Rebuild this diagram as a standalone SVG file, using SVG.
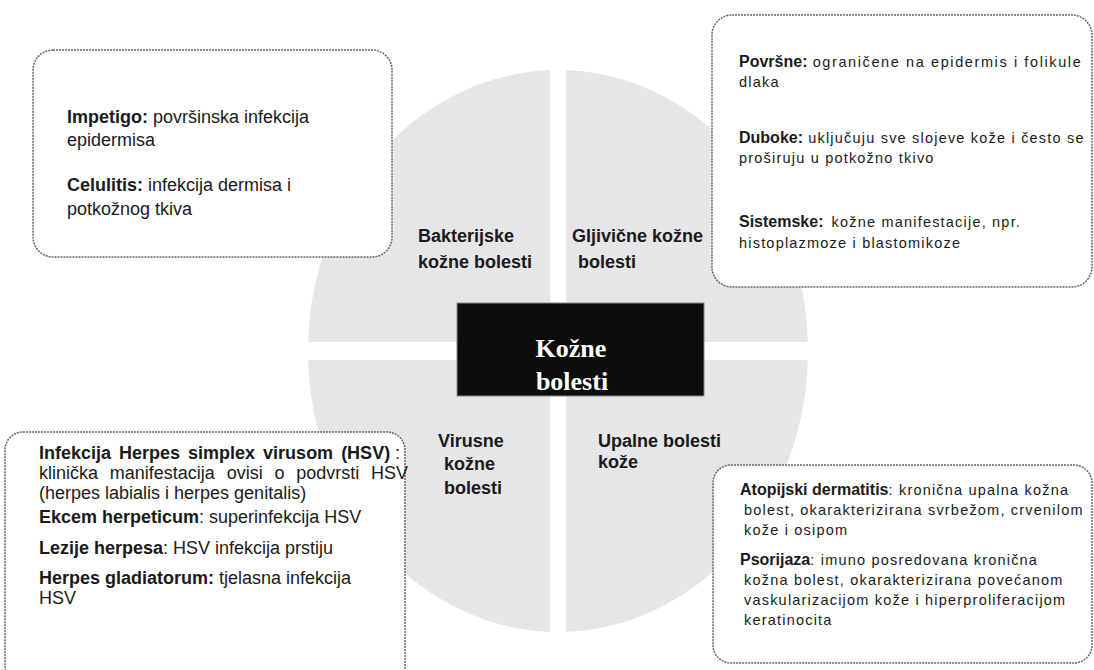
<svg xmlns="http://www.w3.org/2000/svg" width="1094" height="670" viewBox="0 0 1094 670">
<style>
.box{fill:#fff;stroke:#666;stroke-width:1.5;stroke-dasharray:2 1}
.t1{font-family:"Liberation Sans",Arial,sans-serif;font-size:18px;fill:#1a1a1a}
.t2{font-family:"Liberation Sans",Arial,sans-serif;font-size:14.5px;letter-spacing:1.2px;fill:#1a1a1a}
.b{font-weight:bold;letter-spacing:0}
.t2 .b{font-size:16px}
.q{font-family:"Liberation Sans",Arial,sans-serif;font-size:18px;font-weight:bold;fill:#1a1a1a}
.c{font-family:"Liberation Serif","Times New Roman",serif;font-size:26px;font-weight:bold;fill:#fff;text-anchor:middle}
</style>
<rect width="1094" height="670" fill="#fff"/>
<g id="disc">
<ellipse cx="558" cy="351" rx="250" ry="281" fill="#e6e6e8"/>
<rect x="550" y="60" width="16" height="582" fill="#fff"/>
<rect x="298" y="342" width="520" height="18" fill="#fff"/>
</g>
<g id="quadrant-labels">
<text class="q" x="418" y="242">Bakterijske</text>
<text class="q" x="418" y="268">kožne bolesti</text>
<text class="q" x="572" y="242">Gljivične kožne</text>
<text class="q" x="578" y="268">bolesti</text>
<text class="q" x="438" y="447">Virusne</text>
<text class="q" x="444" y="470">kožne</text>
<text class="q" x="444" y="494">bolesti</text>
<text class="q" x="598" y="447">Upalne bolesti</text>
<text class="q" x="598" y="468">kože</text>
</g>
<g id="center">
<rect x="457" y="303" width="247" height="93" fill="#0d0d0d" stroke="#888" stroke-width="1"/>
<text class="c" x="571" y="357">Kožne</text>
<text class="c" x="572" y="390">bolesti</text>
</g>
<g id="bacterial">
<rect class="box" x="33" y="50" width="359" height="207" rx="20"/>
<text class="t1" x="67" y="123"><tspan class="b">Impetigo:</tspan> površinska infekcija</text>
<text class="t1" x="67" y="146">epidermisa</text>
<text class="t1" x="67" y="191"><tspan class="b">Celulitis:</tspan> infekcija dermisa i</text>
<text class="t1" x="67" y="215">potkožnog tkiva</text>
</g>
<g id="fungal">
<rect class="box" x="712" y="15" width="380" height="272" rx="20"/>
<text class="t2" x="739" y="67"><tspan class="b">Površne:</tspan> <tspan style="letter-spacing:1.6px">ograničene na epidermis i folikule</tspan></text>
<text class="t2" x="739" y="87">dlaka</text>
<text class="t2" x="739" y="143"><tspan class="b">Duboke:</tspan> uključuju sve slojeve kože i često se</text>
<text class="t2" x="739" y="163">proširuju u potkožno tkivo</text>
<text class="t2" x="739" y="227"><tspan class="b">Sistemske:</tspan><tspan dx="8">kožne manifestacije, npr.</tspan></text>
<text class="t2" x="739" y="248">histoplazmoze i blastomikoze</text>
</g>
<g id="viral">
<rect class="box" x="5" y="432" width="400" height="252" rx="18"/>
<text class="t1" x="39" y="459"><tspan class="b" style="word-spacing:3px">Infekcija Herpes simplex virusom (HSV)</tspan></text>
<text class="t1" x="395" y="459">:</text>
<text class="t1" x="39" y="479" style="word-spacing:6.8px">klinička manifestacija ovisi o podvrsti HSV</text>
<text class="t1" x="39" y="499">(herpes labialis i herpes genitalis)</text>
<text class="t1" x="39" y="523"><tspan class="b">Ekcem herpeticum</tspan>: superinfekcija HSV</text>
<text class="t1" x="39" y="554"><tspan class="b">Lezije herpesa</tspan>: HSV infekcija prstiju</text>
<text class="t1" x="39" y="584"><tspan class="b">Herpes gladiatorum:</tspan> tjelasna infekcija</text>
<text class="t1" x="39" y="604">HSV</text>
</g>
<g id="inflammatory">
<rect class="box" x="713" y="465" width="379" height="198" rx="18"/>
<text class="t2" x="740" y="495"><tspan class="b">Atopijski dermatitis</tspan>: kronična upalna kožna</text>
<text class="t2" x="744" y="515">bolest, okarakterizirana svrbežom, crvenilom</text>
<text class="t2" x="744" y="535">kože i osipom</text>
<text class="t2" x="740" y="565"><tspan class="b">Psorijaza</tspan>: imuno posredovana kronična</text>
<text class="t2" x="744" y="585">kožna bolest, okarakterizirana povećanom</text>
<text class="t2" x="744" y="605">vaskularizacijom kože i hiperproliferacijom</text>
<text class="t2" x="744" y="625">keratinocita</text>
</g>
</svg>
